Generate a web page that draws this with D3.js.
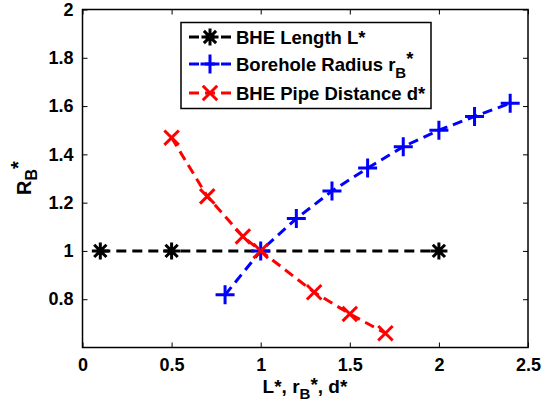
<!DOCTYPE html>
<html>
<head>
<meta charset="utf-8">
<script src="https://cdn.jsdelivr.net/npm/d3@7"></script>
<style>
  body { margin: 0; background: #fff; }
  text { font-family: Arial, "Liberation Sans", Helvetica, sans-serif; font-weight: bold; }
</style>
</head>
<body>
<div id="chart"></div>
<script>
// data
var lenX = [0.1, 0.5, 2.0];
var lenY = [1, 1, 1];

var radX = [0.8, 1.0, 1.2, 1.4, 1.6, 1.8, 2.0, 2.2, 2.4];
var radY = [0.818, 1.0, 1.134, 1.248, 1.343, 1.432, 1.5, 1.557, 1.612];

var pipeX = [0.5, 0.7, 0.9, 1.0, 1.3, 1.5, 1.7];
var pipeY = [1.469, 1.226, 1.06, 1.0, 0.829, 0.739, 0.659];

var xTicks = [0, 0.5, 1, 1.5, 2, 2.5];
var yTicks = [0.8, 1, 1.2, 1.4, 1.6, 1.8, 2];

var width = 547;
var height = 406;

var svg = d3.select("#chart")
  .append("svg")
  .attr("width", width)
  .attr("height", height);

var plotL = 82.5, plotR = 528, plotT = 9.5, plotB = 347.5;

var xScale = d3.scaleLinear().domain([0, 2.5]).range([plotL, plotR]);
var yScale = d3.scaleLinear().domain([0.6, 2]).range([plotB, plotT]);

// axes, matlab style: ticks inward on all four sides
var tickLen = 5;
var xAxis = d3.axisBottom(xScale).tickValues(xTicks).tickSize(-tickLen).tickPadding(11)
  .tickFormat(d3.format("~g"));
var yAxis = d3.axisLeft(yScale).tickValues(yTicks).tickSize(-tickLen).tickPadding(9)
  .tickFormat(d3.format("~g"));
var xTop = d3.axisTop(xScale).tickValues(xTicks).tickSize(-tickLen).tickFormat("");
var yRight = d3.axisRight(yScale).tickValues(yTicks).tickSize(-tickLen).tickFormat("");

function styleAxis(g) {
  g.select(".domain").remove();
  g.selectAll(".tick line").attr("stroke", "#000").attr("stroke-width", 1);
  g.selectAll(".tick text").attr("fill", "#000").style("font-size", "18px");
}

svg.append("g").attr("transform", "translate(0," + plotB + ")").call(xAxis).call(styleAxis);
svg.append("g").attr("transform", "translate(" + plotL + ",0)").call(yAxis).call(styleAxis);
svg.append("g").attr("transform", "translate(0," + plotT + ")").call(xTop).call(styleAxis);
svg.append("g").attr("transform", "translate(" + plotR + ",0)").call(yRight).call(styleAxis);

svg.append("rect")
  .attr("x", plotL).attr("y", plotT)
  .attr("width", plotR - plotL).attr("height", plotB - plotT)
  .attr("fill", "none").attr("stroke", "#000").attr("stroke-width", 1.5);

// markers
function marker(g, type, color, size) {
  var s = size / 2;
  var p;
  if (type == "star") {
    var d = s * 0.72;
    p = "M" + (-s) + ",0H" + s + "M0," + (-s) + "V" + s +
      "M" + (-d) + "," + (-d) + "L" + d + "," + d + "M" + (-d) + "," + d + "L" + d + "," + (-d);
  } else if (type == "plus") {
    p = "M" + (-s) + ",0H" + s + "M0," + (-s) + "V" + s;
  } else {
    var c = s * 0.85;
    p = "M" + (-c) + "," + (-c) + "L" + c + "," + c + "M" + (-c) + "," + c + "L" + c + "," + (-c);
  }
  g.append("path").attr("d", p).attr("stroke", color).attr("stroke-width", 3).attr("fill", "none");
}

var series = [
  { xs: lenX, ys: lenY, color: "#000", type: "star", size: 17, name: "BHE Length L", sub: "" },
  { xs: radX, ys: radY, color: "#0000ff", type: "plus", size: 19, name: "Borehole Radius r", sub: "B" },
  { xs: pipeX, ys: pipeY, color: "#ff0000", type: "x", size: 17, name: "BHE Pipe Distance d", sub: "" }
];

var line = d3.line()
  .x(function(d) { return xScale(d[0]); })
  .y(function(d) { return yScale(d[1]); });

series.forEach(function(s) {
  var pts = s.xs.map(function(x, i) { return [x, s.ys[i]]; });
  svg.append("path")
    .datum(pts)
    .attr("d", line)
    .attr("fill", "none")
    .attr("stroke", s.color)
    .attr("stroke-width", 3)
    .attr("stroke-dasharray", "10,6");
  pts.forEach(function(p) {
    var g = svg.append("g").attr("transform", "translate(" + xScale(p[0]) + "," + yScale(p[1]) + ")");
    marker(g, s.type, s.color, s.size);
  });
});

// legend
var legend = svg.append("g");
legend.append("rect")
  .attr("x", 181).attr("y", 22.5).attr("width", 250).attr("height", 86)
  .attr("fill", "#fff").attr("stroke", "#000").attr("stroke-width", 1.5);

var rowY = [37, 64, 93];
series.forEach(function(s, i) {
  var y = rowY[i];
  legend.append("line")
    .attr("x1", 189).attr("x2", 231).attr("y1", y).attr("y2", y)
    .attr("stroke", s.color).attr("stroke-width", 3).attr("stroke-dasharray", "10,6");
  var g = legend.append("g").attr("transform", "translate(210," + y + ")");
  marker(g, s.type, s.color, s.size);
  var t = legend.append("text")
    .attr("x", 236).attr("y", y + 7)
    .style("font-size", "18.5px").attr("fill", "#000");
  t.append("tspan").text(s.name);
  if (s.sub) {
    t.append("tspan").attr("dy", 7).style("font-size", "15px").text(s.sub);
    t.append("tspan").attr("dy", -13).text("*");
  } else {
    t.append("tspan").text("*");
  }
});

// axis labels
var xl = svg.append("text")
  .attr("x", 305).attr("y", 393)
  .attr("text-anchor", "middle")
  .style("font-size", "19px");
xl.append("tspan").text("L*, r");
xl.append("tspan").attr("dy", 6).style("font-size", "15px").text("B");
xl.append("tspan").attr("dy", -8).text("*");
xl.append("tspan").attr("dy", 2).text(", d*");

var yl = svg.append("text")
  .attr("transform", "translate(31,178) rotate(-90)")
  .attr("text-anchor", "middle")
  .style("font-size", "20px");
yl.append("tspan").text("R");
yl.append("tspan").attr("dy", 6).style("font-size", "16px").text("B");
yl.append("tspan").attr("dy", -12).text("*");
</script>
</body>
</html>
